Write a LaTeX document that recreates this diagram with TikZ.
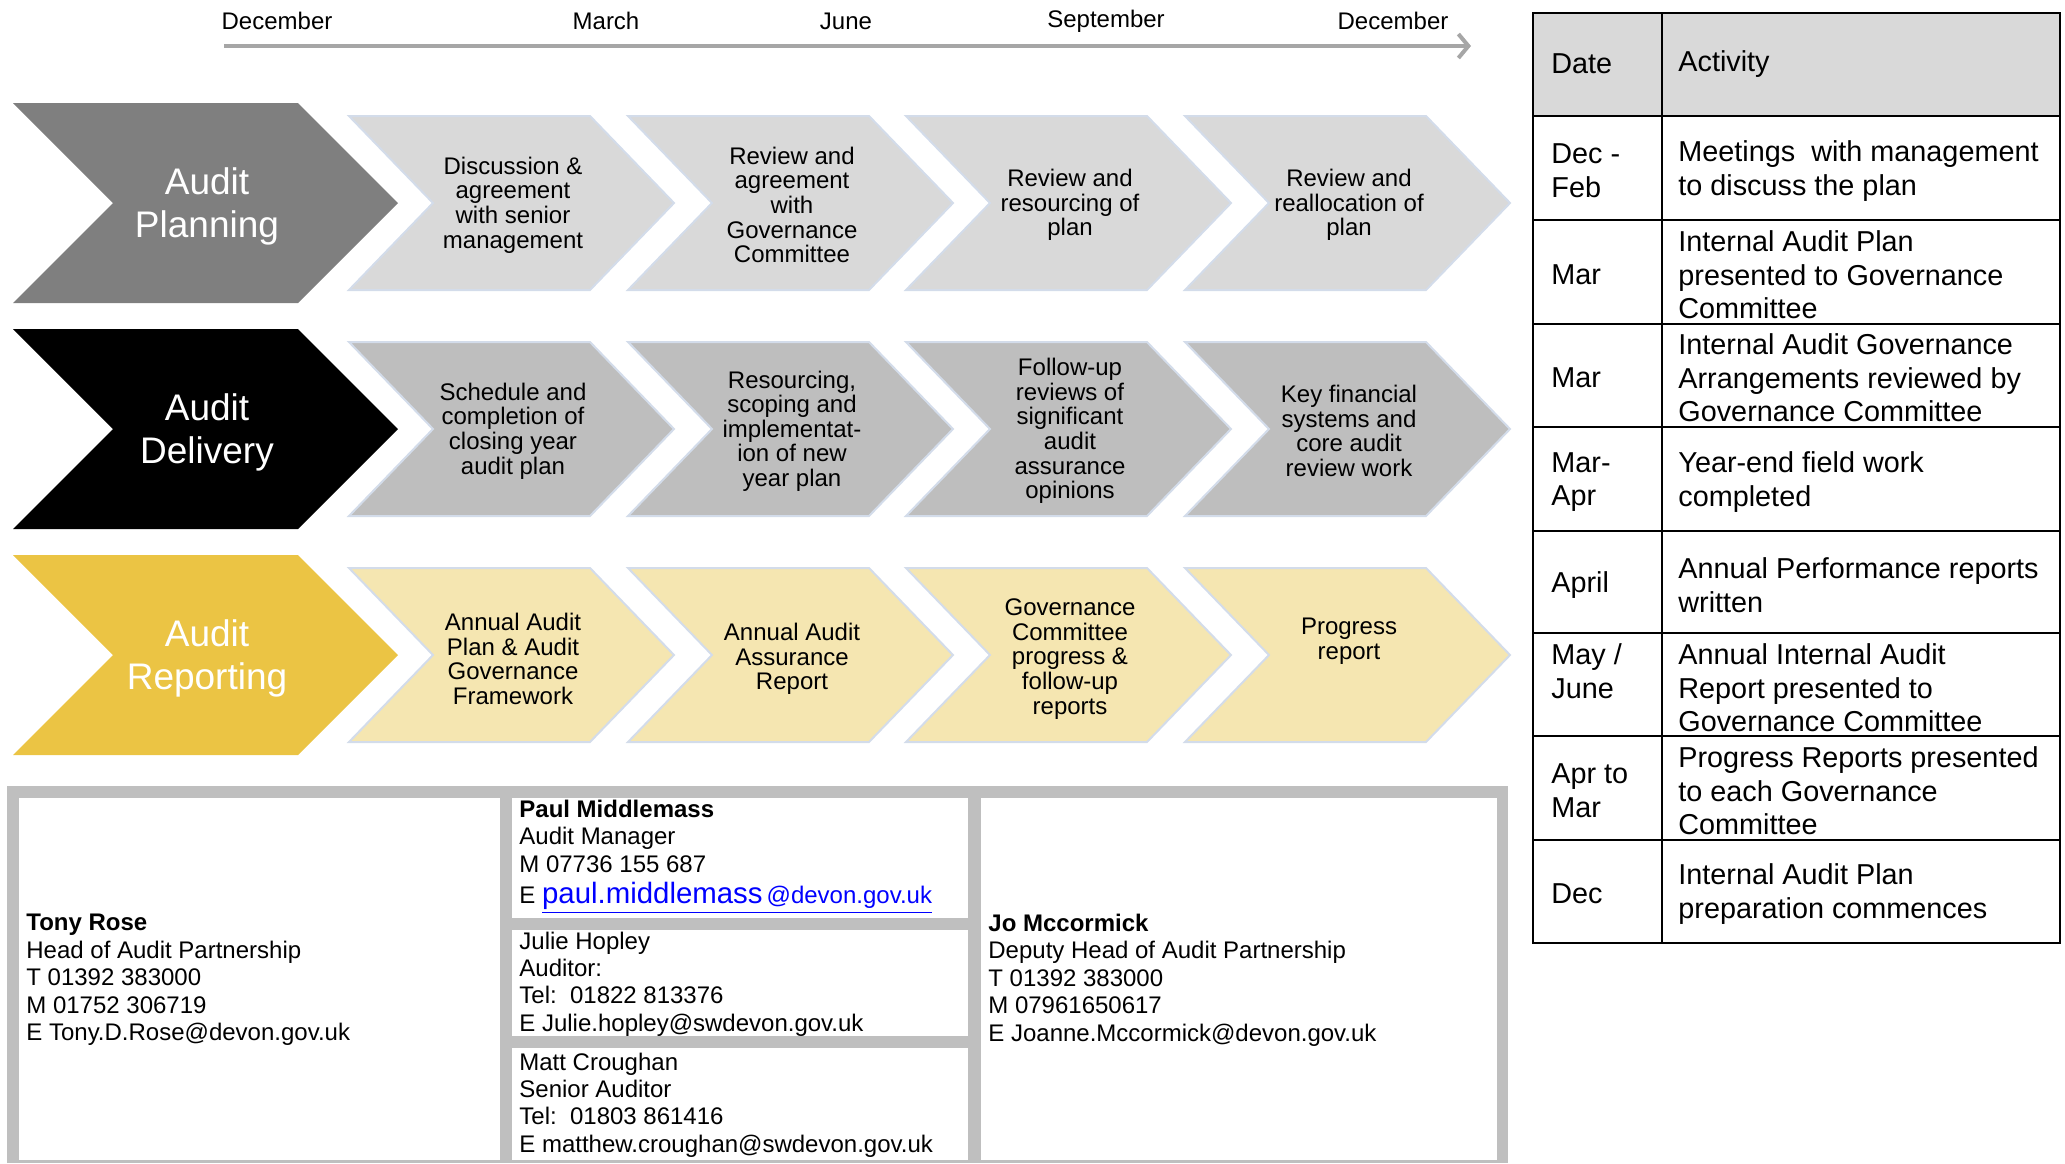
\documentclass[tikz,border=0pt]{standalone}
\usepackage{fontspec}
\setmainfont{Liberation Sans}
\usetikzlibrary{arrows.meta}

\definecolor{plangray}{HTML}{7F7F7F}
\definecolor{planlight}{HTML}{D9D9D9}
\definecolor{dellight}{HTML}{BEBEBE}
\definecolor{repyellow}{HTML}{EBC444}
\definecolor{replight}{HTML}{F5E6B1}
\definecolor{edgeblue}{HTML}{D3DCEA}
\definecolor{framegray}{HTML}{BFBFBF}
\definecolor{linegray}{HTML}{A6A6A6}
\definecolor{linkblue}{HTML}{0000FF}

\tikzstyle{month} = [inner sep=0pt, font=\fontsize{12}{14}\selectfont]
\tikzstyle{phase} = [inner sep=0pt, align=center, text=white,
    font=\fontsize{18.5}{21.5}\selectfont]
\tikzstyle{stagetxt} = [inner sep=0pt, align=center,
    font=\fontsize{12}{12.3}\selectfont]
\tikzstyle{contact} = [inner sep=0pt, anchor=west, align=left,
    font=\fontsize{12}{13.7}\selectfont]
\tikzstyle{cell} = [inner sep=0pt, anchor=west, align=left,
    font=\fontsize{14.4}{16.8}\selectfont]
\tikzstyle{timeline} = [line width=2pt, linegray,
    -{Straight Barb[length=5pt, width=12pt]}]

\newcommand{\phasebox}[3]{% colour, left x, centre y
    \fill [#1] (#2,#3-100) -- ++(285,0) -- ++(100,100) -- ++(-100,100)
        -- ++(-285,0) -- ++(100,-100) -- cycle;}
\newcommand{\stagebox}[3]{% colour, left x, centre y
    \filldraw [fill=#1, draw=edgeblue, line width=1pt] (#2,#3-87) -- ++(241,0)
        -- ++(84,87) -- ++(-84,87) -- ++(-241,0) -- ++(84,-87) -- cycle;}

\begin{document}
\begin{tikzpicture}[x=0.5pt, y=-0.5pt]
        \useasboundingbox (0,0) rectangle (2065,1163);

        \node [month] (m0) at (277, 21) {December};
        \node [month] (m1) at (606, 21) {March};
        \node [month] (m2) at (846, 21) {June};
        \node [month] (m3) at (1106, 21) {September};
        \node [month] (m4) at (1393, 21) {December};
        \coordinate (t0) at (224, 46);
        \coordinate (t1) at (1471, 46);
        \draw [timeline] (t0) -- (t1);

        \phasebox{plangray}{13}{203}
        \node [phase] (plan) at (207, 206) {Audit\\Planning};
        \stagebox{planlight}{349}{203}
        \stagebox{planlight}{628}{203}
        \stagebox{planlight}{906}{203}
        \stagebox{planlight}{1185}{203}
        \node [stagetxt] (plan1) at (513, 205) {Discussion \&\\agreement\\with senior\\management};
        \node [stagetxt] (plan2) at (792, 205) {Review and\\agreement\\with\\Governance\\Committee};
        \node [stagetxt] (plan3) at (1070, 205) {Review and\\resourcing of\\plan};
        \node [stagetxt] (plan4) at (1349, 205) {Review and\\reallocation of\\plan};

        \phasebox{black}{13}{429}
        \node [phase] (deliv) at (207, 432) {Audit\\Delivery};
        \stagebox{dellight}{349}{429}
        \stagebox{dellight}{628}{429}
        \stagebox{dellight}{906}{429}
        \stagebox{dellight}{1185}{429}
        \node [stagetxt] (deliv1) at (513, 431) {Schedule and\\completion of\\closing year\\audit plan};
        \node [stagetxt] (deliv2) at (792, 431) {Resourcing,\\scoping and\\implementat-\\ion of new\\year plan};
        \node [stagetxt] (deliv3) at (1070, 431) {Follow-up\\reviews of\\significant\\audit\\assurance\\opinions};
        \node [stagetxt] (deliv4) at (1349, 431) {Key financial\\systems and\\core audit\\review work};

        \phasebox{repyellow}{13}{655}
        \node [phase] (report) at (207, 658) {Audit\\Reporting};
        \stagebox{replight}{349}{655}
        \stagebox{replight}{628}{655}
        \stagebox{replight}{906}{655}
        \stagebox{replight}{1185}{655}
        \node [stagetxt] (report1) at (513, 659) {Annual Audit\\Plan \& Audit\\Governance\\Framework};
        \node [stagetxt] (report2) at (792, 659) {Annual Audit\\Assurance\\Report};
        \node [stagetxt] (report3) at (1070, 659) {Governance\\Committee\\progress \&\\follow-up\\reports};
        \node [stagetxt] (report4) at (1349, 641) {Progress\\report};

        \fill [framegray] (7,786) rectangle (1508,1163);
        \fill [white] (19,798) rectangle (500,1160);
        \fill [white] (512,798) rectangle (968,918);
        \fill [white] (512,930) rectangle (968,1036);
        \fill [white] (512,1048) rectangle (968,1160);
        \fill [white] (981,798) rectangle (1497,1160);

        \node [contact] (tony) at (26, 980) {\textbf{Tony Rose}\\Head of Audit Partnership\\T 01392 383000\\M 01752 306719\\E Tony.D.Rose@devon.gov.uk};
        \node [contact] (paul) at (519, 857) {\textbf{Paul Middlemass}\\Audit Manager\\M 07736 155 687\\[2pt]E \textcolor{linkblue}{\underline{{\fontsize{14.7}{15}\selectfont paul.middlemass}\,@devon.gov.uk}}};
        \node [contact] (julie) at (519, 984) {Julie Hopley\\Auditor:\\Tel:\ \ 01822 813376\\E Julie.hopley@swdevon.gov.uk};
        \node [contact] (matt) at (519, 1105) {Matt Croughan\\Senior Auditor\\Tel:\ \ 01803 861416\\E matthew.croughan@swdevon.gov.uk};
        \node [contact] (jo) at (988, 980) {\textbf{Jo Mccormick}\\Deputy Head of Audit Partnership\\T 01392 383000\\M 07961650617\\E Joanne.Mccormick@devon.gov.uk};

        \fill [planlight] (1533,13) rectangle (2060,116);
        \draw [line width=1pt] (1533,13) rectangle (2060,943);
        \draw [line width=1pt] (1662,13) -- (1662,943);
        \draw [line width=1pt] (1533,116) -- (2060,116);
        \draw [line width=1pt] (1533,220) -- (2060,220);
        \draw [line width=1pt] (1533,324) -- (2060,324);
        \draw [line width=1pt] (1533,427) -- (2060,427);
        \draw [line width=1pt] (1533,531) -- (2060,531);
        \draw [line width=1pt] (1533,633) -- (2060,633);
        \draw [line width=1pt] (1533,736) -- (2060,736);
        \draw [line width=1pt] (1533,840) -- (2060,840);

        \node [cell] (d0) at (1551, 64) {Date};
        \node [cell] (a0) at (1678, 64) {Activity};
        \node [cell] (d1) at (1551, 171) {Dec -\\Feb};
        \node [cell] (a1) at (1678, 171) {Meetings \ with management\\to discuss the plan};
        \node [cell] (d2) at (1551, 275) {Mar};
        \node [cell] (a2) at (1678, 275) {Internal Audit Plan\\presented to Governance\\Committee};
        \node [cell] (d3) at (1551, 378) {Mar};
        \node [cell] (a3) at (1678, 378) {Internal Audit Governance\\Arrangements reviewed by\\Governance Committee};
        \node [cell] (d4) at (1551, 482) {Mar-\\Apr};
        \node [cell] (a4) at (1678, 482) {Year-end field work\\completed};
        \node [cell] (d5) at (1551, 585) {April};
        \node [cell] (a5) at (1678, 585) {Annual Performance reports\\written};
        \node [cell] (d6) at (1551, 671) {May /\\June};
        \node [cell] (a6) at (1678, 688) {Annual Internal Audit\\Report presented to\\Governance Committee};
        \node [cell] (d7) at (1551, 791) {Apr to\\Mar};
        \node [cell] (a7) at (1678, 791) {Progress Reports presented\\to each Governance\\Committee};
        \node [cell] (d8) at (1551, 894) {Dec};
        \node [cell] (a8) at (1678, 894) {Internal Audit Plan\\preparation commences};
\end{tikzpicture}
\end{document}
